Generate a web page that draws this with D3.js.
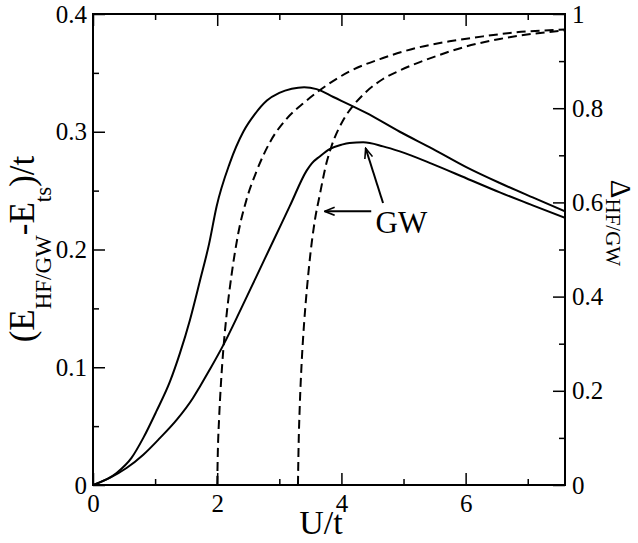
<!DOCTYPE html>
<html><head><meta charset="utf-8">
<script src="https://cdn.jsdelivr.net/npm/d3@7"></script>
<style>
body{margin:0;background:#fff}svg{display:block}
svg text{font-family:"Liberation Serif","Times New Roman",Times,serif}
</style>
</head><body><svg id="c" width="638" height="543"></svg>
<script>
// ---- data ----
const hfU  = [0,0.38,0.62,0.81,1.02,1.24,1.40,1.56,1.72,1.87,1.99,2.20,2.42,2.60,2.80,3.00,3.20,3.40,3.60,3.87,4.40,4.94,5.47,6.01,6.55,7.08,7.6];
const hfE  = [0,0.0102,0.023,0.040,0.0625,0.088,0.112,0.140,0.173,0.205,0.2366,0.273,0.300,0.3145,0.3265,0.333,0.3365,0.3378,0.3362,0.3295,0.316,0.300,0.2855,0.270,0.2565,0.2442,0.2324];
const gwU  = [0,0.27,0.54,0.81,1.08,1.35,1.61,1.72,1.88,2.10,2.36,2.63,2.90,3.17,3.44,3.52,3.65,3.81,4.00,4.13,4.35,4.67,4.94,5.47,6.01,6.55,7.08,7.6];
const gwE  = [0,0.006,0.0144,0.0257,0.040,0.0555,0.0739,0.0835,0.098,0.119,0.147,0.177,0.207,0.237,0.267,0.273,0.279,0.2853,0.289,0.2905,0.291,0.2876,0.2833,0.2725,0.2605,0.2485,0.2375,0.2268];
const hfDU = [2.00,2.01,2.03,2.06,2.10,2.15,2.23,2.34,2.47,2.63,2.85,3.12,3.40,3.65,4.13,4.67,5.21,5.74,6.28,6.81,7.6];
const hfD  = [0,0.07,0.14,0.215,0.29,0.36,0.445,0.535,0.605,0.665,0.728,0.778,0.812,0.838,0.878,0.9066,0.928,0.942,0.9525,0.961,0.967];
const gwDU = [3.30,3.31,3.33,3.36,3.40,3.44,3.50,3.57,3.65,3.76,3.84,4.03,4.20,4.40,4.67,4.94,5.47,6.01,6.55,7.08,7.6];
const gwD  = [0,0.08,0.17,0.26,0.345,0.41,0.49,0.56,0.615,0.684,0.719,0.775,0.807,0.835,0.862,0.880,0.908,0.931,0.947,0.958,0.965];
const xMajor = [0,2,4,6], xMinor = [1,3,5,7];
const xTickLabels = ["0","2","4","6"];
const yLMajor = [0,0.1,0.2,0.3,0.4], yLMinor = [0.05,0.15,0.25,0.35];
const yLTickLabels = ["0","0.1","0.2","0.3","0.4"];
const yRMajor = [0,0.2,0.4,0.6,0.8,1], yRMinor = [0.1,0.3,0.5,0.7,0.9];
const yRTickLabels = ["0","0.2","0.4","0.6","0.8","1"];
// annotation (data units, left axis)
const gwLabel = {u:4.55, e:0.2142, text:"GW"};
const arrows = [{u1:4.67,e1:0.2395,u2:4.39,e2:0.286},{u1:4.48,e1:0.2324,u2:3.73,e2:0.2324}];

// ---- layout ----
const FONT = '"Liberation Serif","Times New Roman",Times,serif';
const L=93, R=565, T=14, B=485;
const svg = d3.select("#c").attr("font-family",FONT);
const x = d3.scaleLinear().domain([0,7.6]).range([L,R]);
const yL = d3.scaleLinear().domain([0,0.4]).range([B,T]);
const yR = d3.scaleLinear().domain([0,1]).range([B,T]);
const FS = 25;

function axis(gen, transform, vals, size, labels, pad){
  const a = gen.tickValues(vals).tickSize(size).tickPadding(pad);
  a.tickFormat(labels ? ((d,i)=>labels[i]) : ()=>"");
  const g = svg.append("g").attr("transform",transform).call(a);
  g.attr("font-family",FONT).attr("font-size",FS);
  g.select(".domain").remove();
  g.selectAll("line").attr("stroke","#000").attr("stroke-width",1.5);
  g.selectAll("text").attr("fill","#000");
  return g;
}
axis(d3.axisBottom(x), `translate(0,${B})`, xMajor, -12, xTickLabels, 9);
axis(d3.axisBottom(x), `translate(0,${B})`, xMinor, -6, null, 9);
axis(d3.axisTop(x), `translate(0,${T})`, xMajor, -12, null, 3);
axis(d3.axisTop(x), `translate(0,${T})`, xMinor, -6, null, 3);
axis(d3.axisLeft(yL), `translate(${L},0)`, yLMajor, -12, yLTickLabels, 6);
axis(d3.axisLeft(yL), `translate(${L},0)`, yLMinor, -6, null, 6);
axis(d3.axisRight(yR), `translate(${R},0)`, yRMajor, -12, yRTickLabels, 7);
axis(d3.axisRight(yR), `translate(${R},0)`, yRMinor, -6, null, 7);

svg.append("defs").append("clipPath").attr("id","clip").append("rect")
  .attr("x",L).attr("y",T).attr("width",R-L).attr("height",B-T);

const lineL = d3.line().x(d=>x(d[0])).y(d=>yL(d[1])).curve(d3.curveMonotoneX);
const lineR = d3.line().x(d=>x(d[0])).y(d=>yR(d[1])).curve(d3.curveMonotoneX);
const pg = svg.append("g").attr("clip-path","url(#clip)");
pg.append("path").attr("d",lineL(d3.zip(hfU,hfE))).attr("fill","none").attr("stroke","#000").attr("stroke-width",2);
pg.append("path").attr("d",lineL(d3.zip(gwU,gwE))).attr("fill","none").attr("stroke","#000").attr("stroke-width",2);
pg.append("path").attr("d",lineR(d3.zip(hfDU,hfD))).attr("fill","none").attr("stroke","#000").attr("stroke-width",2).attr("stroke-dasharray","9,5");
pg.append("path").attr("d",lineR(d3.zip(gwDU,gwD))).attr("fill","none").attr("stroke","#000").attr("stroke-width",2).attr("stroke-dasharray","9,5");

// frame
svg.append("rect").attr("x",L).attr("y",T).attr("width",R-L).attr("height",B-T)
  .attr("fill","none").attr("stroke","#000").attr("stroke-width",2);

// arrows
svg.append("defs").append("marker").attr("id","ah").attr("viewBox","0 0 12 10")
  .attr("refX",11).attr("refY",5).attr("markerWidth",12).attr("markerHeight",10)
  .attr("markerUnits","userSpaceOnUse").attr("orient","auto")
  .append("path").attr("d","M1,1 L11,5 L1,9").attr("fill","none").attr("stroke","#000").attr("stroke-width",1.6);
arrows.forEach(a=>{
  svg.append("line").attr("x1",x(a.u1)).attr("y1",yL(a.e1)).attr("x2",x(a.u2)).attr("y2",yL(a.e2))
    .attr("stroke","#000").attr("stroke-width",2).attr("marker-end","url(#ah)");
});
svg.append("text").attr("x",x(gwLabel.u)).attr("y",yL(gwLabel.e)).attr("font-size",31).text(gwLabel.text);

// axis titles
svg.append("text").attr("x",321).attr("y",534).attr("text-anchor","middle").attr("font-size",34).text("U/t");
const lt = svg.append("text").attr("transform","translate(34,249) rotate(-90)").attr("text-anchor","middle").attr("font-size",35);
lt.append("tspan").text("(E");
lt.append("tspan").attr("font-size",23).attr("dy",17).text("HF/GW");
lt.append("tspan").attr("dy",-17).text("-E");
lt.append("tspan").attr("font-size",23).attr("dy",17).text("ts");
lt.append("tspan").attr("dy",-17).text(")/t");
const rt = svg.append("text").attr("transform","translate(611,223) rotate(90)").attr("text-anchor","middle").attr("font-size",29);
rt.append("tspan").text("\u0394");
rt.append("tspan").attr("font-size",21).attr("dy",5).text("HF/GW");
</script></body></html>
